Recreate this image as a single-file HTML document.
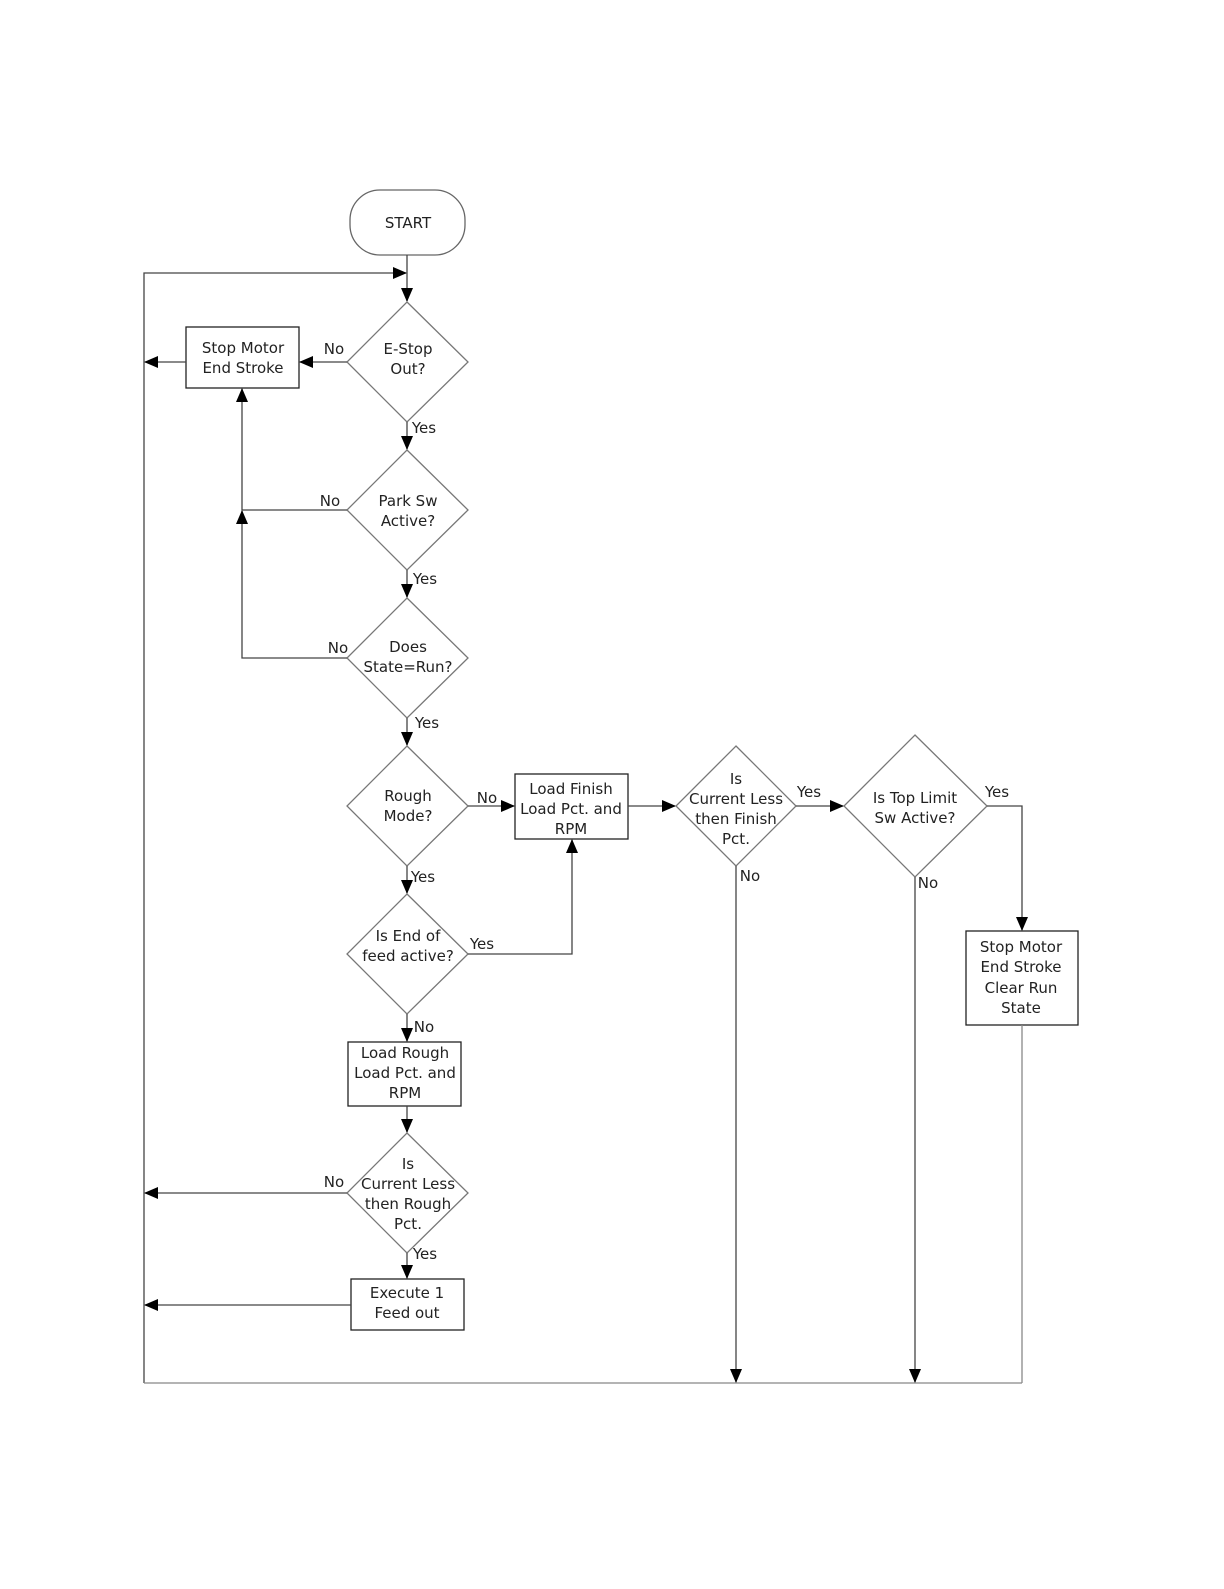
<!DOCTYPE html>
<html><head><style>
html,body{margin:0;padding:0;background:#fff;}
svg text{font-family:"DejaVu Sans","Liberation Sans",sans-serif;font-size:15px;fill:#222;text-anchor:middle;}
</style></head><body>
<svg width="1224" height="1584" xmlns="http://www.w3.org/2000/svg">
<defs><marker id="a" markerWidth="14" markerHeight="12" refX="13" refY="6" orient="auto" markerUnits="userSpaceOnUse"><path d="M0,0 L14,6 L0,12 z" fill="#000"/></marker></defs>
<g fill="none" stroke="#444" stroke-width="1.3">
<rect x="350" y="190" width="115" height="65" rx="30" stroke="#666"/>
<line x1="407" y1="255" x2="407" y2="301" marker-end="url(#a)"/>
<polyline points="144,1383 144,273 406,273" marker-end="url(#a)"/>
<line x1="144" y1="1383" x2="1022" y2="1383" stroke="#888"/>
<g stroke="#777">
<polygon points="407,302 468,362 407,422 347,362"/>
<polygon points="407,450 468,510 407,570 347,510"/>
<polygon points="407,598 468,658 407,718 347,658"/>
<polygon points="407,746 468,806 407,866 347,806"/>
<polygon points="736,746 796,806 736,866 676,806"/>
<polygon points="915,735 987,806 915,877 844,806"/>
<polygon points="407,894 468,954 407,1014 347,954"/>
<polygon points="407,1133 468,1193 407,1253 347,1193"/>
</g>
<rect x="186" y="327" width="113" height="61" stroke="#222"/>
<rect x="515" y="774" width="113" height="65" stroke="#222"/>
<rect x="966" y="931" width="112" height="94" stroke="#222"/>
<rect x="348" y="1042" width="113" height="64" stroke="#222"/>
<rect x="351" y="1279" width="113" height="51" stroke="#222"/>
<line x1="347" y1="362" x2="300" y2="362" marker-end="url(#a)"/>
<line x1="186" y1="362" x2="145" y2="362" marker-end="url(#a)"/>
<line x1="407" y1="422" x2="407" y2="449" marker-end="url(#a)"/>
<polyline points="347,510 242,510 242,389" marker-end="url(#a)"/>
<line x1="407" y1="570" x2="407" y2="597" marker-end="url(#a)"/>
<polyline points="347,658 242,658 242,511" marker-end="url(#a)"/>
<line x1="407" y1="718" x2="407" y2="745" marker-end="url(#a)"/>
<line x1="468" y1="806" x2="514" y2="806" marker-end="url(#a)"/>
<line x1="628" y1="806" x2="675" y2="806" marker-end="url(#a)"/>
<line x1="796" y1="806" x2="843" y2="806" marker-end="url(#a)"/>
<polyline points="987,806 1022,806 1022,930" marker-end="url(#a)"/>
<line x1="1022" y1="1025" x2="1022" y2="1383" stroke="#888"/>
<line x1="736" y1="866" x2="736" y2="1382" marker-end="url(#a)"/>
<line x1="915" y1="877" x2="915" y2="1382" marker-end="url(#a)"/>
<line x1="407" y1="866" x2="407" y2="893" marker-end="url(#a)"/>
<polyline points="468,954 572,954 572,840" marker-end="url(#a)"/>
<line x1="407" y1="1014" x2="407" y2="1041" marker-end="url(#a)"/>
<line x1="407" y1="1106" x2="407" y2="1132" marker-end="url(#a)"/>
<line x1="347" y1="1193" x2="145" y2="1193" marker-end="url(#a)"/>
<line x1="407" y1="1253" x2="407" y2="1278" marker-end="url(#a)"/>
<line x1="351" y1="1305" x2="145" y2="1305" marker-end="url(#a)"/>
</g>
<text x="408" y="228">START</text>
<text x="243" y="353">Stop Motor</text><text x="243" y="373">End Stroke</text>
<text x="334" y="354">No</text>
<text x="408" y="354">E-Stop</text><text x="408" y="374">Out?</text>
<text x="424" y="433">Yes</text>
<text x="408" y="506">Park Sw</text><text x="408" y="526">Active?</text>
<text x="330" y="506">No</text>
<text x="425" y="584">Yes</text>
<text x="408" y="652">Does</text><text x="408" y="672">State=Run?</text>
<text x="338" y="653">No</text>
<text x="427" y="728">Yes</text>
<text x="408" y="801">Rough</text><text x="408" y="821">Mode?</text>
<text x="487" y="803">No</text>
<text x="571" y="794">Load Finish</text><text x="571" y="814">Load Pct. and</text><text x="571" y="834">RPM</text>
<text x="736" y="784">Is</text><text x="736" y="804">Current Less</text><text x="736" y="824">then Finish</text><text x="736" y="844">Pct.</text>
<text x="809" y="797">Yes</text>
<text x="750" y="881">No</text>
<text x="915" y="803">Is Top Limit</text><text x="915" y="823">Sw Active?</text>
<text x="997" y="797">Yes</text>
<text x="928" y="888">No</text>
<text x="1021" y="952">Stop Motor</text><text x="1021" y="972">End Stroke</text><text x="1021" y="993">Clear Run</text><text x="1021" y="1013">State</text>
<text x="423" y="882">Yes</text>
<text x="408" y="941">Is End of</text><text x="408" y="961">feed active?</text>
<text x="482" y="949">Yes</text>
<text x="424" y="1032">No</text>
<text x="405" y="1058">Load Rough</text><text x="405" y="1078">Load Pct. and</text><text x="405" y="1098">RPM</text>
<text x="408" y="1169">Is</text><text x="408" y="1189">Current Less</text><text x="408" y="1209">then Rough</text><text x="408" y="1229">Pct.</text>
<text x="334" y="1187">No</text>
<text x="425" y="1259">Yes</text>
<text x="407" y="1298">Execute 1</text><text x="407" y="1318">Feed out</text>
</svg>
</body></html>
